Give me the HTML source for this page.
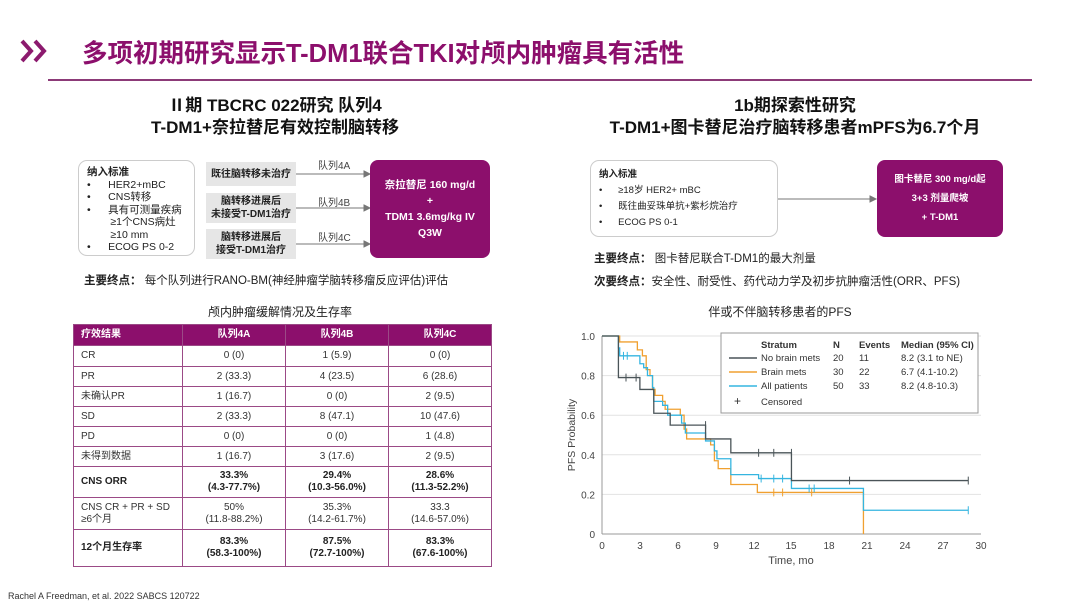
<!DOCTYPE html>
<html><head><meta charset="utf-8">
<style>
*{margin:0;padding:0;box-sizing:border-box}
body{width:1080px;height:608px;background:#fff;position:relative;overflow:hidden;font-family:"Liberation Sans","Noto Sans CJK SC",sans-serif;color:#222}
.a{position:absolute;white-space:nowrap}
.h{font-weight:bold;font-size:17px;text-align:center;line-height:22px;color:#111}
.gb{position:absolute;background:#e6e6e6;font-size:10px;font-weight:bold;text-align:center;display:flex;align-items:center;justify-content:center;line-height:13px;color:#222}
.pb{position:absolute;background:#8c0f6c;border-radius:8px;color:#fff;font-size:10.5px;font-weight:bold;text-align:center;display:flex;flex-direction:column;justify-content:center;line-height:16px}
.wb{position:absolute;border:1px solid #ccc;border-radius:9px;background:#fff;font-size:10.5px;line-height:12.5px}
table{position:absolute;left:73px;top:324px;width:419px;border-collapse:collapse;font-size:10px}
td{border:1px solid #9b4a86;text-align:center;color:#333;line-height:12px}
td:first-child{text-align:left;padding-left:7px}
tr.hd td{background:#8c0f6c;color:#fff;font-weight:bold;height:21px}
tr.b td{font-weight:bold;color:#222}
</style></head><body>
<svg class="a" style="left:18px;top:38px" width="34" height="28"><g fill="none" stroke="#8c1a6e" stroke-width="4"><polyline points="4,3 13,13 4,23"/><polyline points="17,3 26,13 17,23"/></g></svg>
<div class="a" style="left:82px;top:33px;font-size:25.5px;font-weight:bold;color:#8c0f6c">多项初期研究显示T-DM1联合TKI对颅内肿瘤具有活性</div>
<div class="a" style="left:48px;top:79px;width:984px;height:2px;background:#8c3a78"></div>

<div class="a h" style="left:125px;top:95px;width:300px">Ⅱ期 TBCRC 022研究 队列4<br>T-DM1+奈拉替尼有效控制脑转移</div>
<div class="a h" style="left:580px;top:95px;width:430px">1b期探索性研究<br>T-DM1+图卡替尼治疗脑转移患者mPFS为6.7个月</div>

<div class="wb" style="left:78px;top:160px;width:117px;height:96px;padding:5px 8px">
<b>纳入标准</b><br>•&nbsp;&nbsp;&nbsp;&nbsp;&nbsp;&nbsp;HER2+mBC<br>•&nbsp;&nbsp;&nbsp;&nbsp;&nbsp;&nbsp;CNS转移<br>•&nbsp;&nbsp;&nbsp;&nbsp;&nbsp;&nbsp;具有可测量疾病<br>&nbsp;&nbsp;&nbsp;&nbsp;&nbsp;&nbsp;&nbsp;&nbsp;≥1个CNS病灶<br>&nbsp;&nbsp;&nbsp;&nbsp;&nbsp;&nbsp;&nbsp;&nbsp;≥10 mm<br>•&nbsp;&nbsp;&nbsp;&nbsp;&nbsp;&nbsp;ECOG PS 0-2</div>
<div class="gb" style="left:206px;top:162px;width:90px;height:24px">既往脑转移未治疗</div>
<div class="gb" style="left:206px;top:193px;width:90px;height:30px">脑转移进展后<br>未接受T-DM1治疗</div>
<div class="gb" style="left:206px;top:229px;width:90px;height:30px">脑转移进展后<br>接受T-DM1治疗</div>
<svg class="a" style="left:0;top:0" width="1080" height="608">
<g stroke="#777" stroke-width="1" fill="#777">
<line x1="296" y1="174" x2="366" y2="174"/><path d="M364 171 L370 174 L364 177Z"/>
<line x1="296" y1="208" x2="366" y2="208"/><path d="M364 205 L370 208 L364 211Z"/>
<line x1="296" y1="244" x2="366" y2="244"/><path d="M364 241 L370 244 L364 247Z"/>
<line x1="778" y1="199" x2="872" y2="199"/><path d="M870 196 L876 199 L870 202Z"/>
</g></svg>
<div class="a" style="left:318px;top:157px;font-size:10px;color:#444">队列4A</div>
<div class="a" style="left:318px;top:194px;font-size:10px;color:#444">队列4B</div>
<div class="a" style="left:318px;top:229px;font-size:10px;color:#444">队列4C</div>
<div class="pb" style="left:370px;top:160px;width:120px;height:98px">奈拉替尼 160 mg/d<br>+<br>TDM1 3.6mg/kg IV<br>Q3W</div>
<div class="a" style="left:84px;top:272px;font-size:11.5px"><b>主要终点：</b> 每个队列进行RANO-BM(神经肿瘤学脑转移瘤反应评估)评估</div>

<div class="a" style="left:160px;top:303px;width:240px;text-align:center;font-size:12px">颅内肿瘤缓解情况及生存率</div>
<table>
<tr class="hd"><td style="width:109px">疗效结果</td><td style="width:103px">队列4A</td><td style="width:103px">队列4B</td><td>队列4C</td></tr>
<tr style="height:21px"><td>CR</td><td>0 (0)</td><td>1 (5.9)</td><td>0 (0)</td></tr>
<tr style="height:20px"><td>PR</td><td>2 (33.3)</td><td>4 (23.5)</td><td>6 (28.6)</td></tr>
<tr style="height:20px"><td>未确认PR</td><td>1 (16.7)</td><td>0 (0)</td><td>2 (9.5)</td></tr>
<tr style="height:20px"><td>SD</td><td>2 (33.3)</td><td>8 (47.1)</td><td>10 (47.6)</td></tr>
<tr style="height:20px"><td>PD</td><td>0 (0)</td><td>0 (0)</td><td>1 (4.8)</td></tr>
<tr style="height:20px"><td>未得到数据</td><td>1 (16.7)</td><td>3 (17.6)</td><td>2 (9.5)</td></tr>
<tr class="b" style="height:31px"><td>CNS ORR</td><td>33.3%<br>(4.3-77.7%)</td><td>29.4%<br>(10.3-56.0%)</td><td>28.6%<br>(11.3-52.2%)</td></tr>
<tr style="height:32px"><td>CNS CR + PR + SD<br>≥6个月</td><td>50%<br>(11.8-88.2%)</td><td>35.3%<br>(14.2-61.7%)</td><td>33.3<br>(14.6-57.0%)</td></tr>
<tr class="b" style="height:37px"><td>12个月生存率</td><td>83.3%<br>(58.3-100%)</td><td>87.5%<br>(72.7-100%)</td><td>83.3%<br>(67.6-100%)</td></tr>
</table>

<div class="wb" style="left:590px;top:160px;width:188px;height:77px;padding:6px 8px;font-size:9.5px;line-height:16px">
<b>纳入标准</b><br>•&nbsp;&nbsp;&nbsp;&nbsp;&nbsp;&nbsp;≥18岁 HER2+ mBC<br>•&nbsp;&nbsp;&nbsp;&nbsp;&nbsp;&nbsp;既往曲妥珠单抗+紫杉烷治疗<br>•&nbsp;&nbsp;&nbsp;&nbsp;&nbsp;&nbsp;ECOG PS 0-1</div>
<div class="pb" style="left:877px;top:160px;width:126px;height:77px;font-size:9.5px;line-height:19px">图卡替尼 300 mg/d起<br>3+3 剂量爬坡<br>+ T-DM1</div>
<div class="a" style="left:594px;top:250px;font-size:11.5px"><b>主要终点：</b> 图卡替尼联合T-DM1的最大剂量</div>
<div class="a" style="left:594px;top:273px;font-size:11.5px"><b>次要终点：</b>安全性、耐受性、药代动力学及初步抗肿瘤活性(ORR、PFS)</div>
<div class="a" style="left:660px;top:303px;width:240px;text-align:center;font-size:12px">伴或不伴脑转移患者的PFS</div>

<svg class="a" style="left:0;top:0" width="1080" height="608" font-family="Liberation Sans, sans-serif">
<g stroke="#e2e2e2" stroke-width="1">
<line x1="602" x2="981" y1="336" y2="336"/><line x1="602" x2="981" y1="375.6" y2="375.6"/><line x1="602" x2="981" y1="415.2" y2="415.2"/><line x1="602" x2="981" y1="454.8" y2="454.8"/><line x1="602" x2="981" y1="494.4" y2="494.4"/>
</g>
<g stroke="#999" stroke-width="1"><line x1="602" y1="336" x2="602" y2="534"/><line x1="602" y1="534" x2="981" y2="534"/></g>
<g font-size="10" fill="#444" text-anchor="end">
<text x="595" y="340">1.0</text><text x="595" y="379.6">0.8</text><text x="595" y="419.2">0.6</text><text x="595" y="458.8">0.4</text><text x="595" y="498.4">0.2</text><text x="595" y="538">0</text></g>
<g font-size="10" fill="#444" text-anchor="middle">
<text x="602" y="549">0</text><text x="640" y="549">3</text><text x="678" y="549">6</text><text x="716" y="549">9</text><text x="754" y="549">12</text><text x="791" y="549">15</text><text x="829" y="549">18</text><text x="867" y="549">21</text><text x="905" y="549">24</text><text x="943" y="549">27</text><text x="981" y="549">30</text>
<text x="791" y="564" font-size="11">Time, mo</text>
<text transform="translate(575,435) rotate(-90)" font-size="10.5">PFS Probability</text></g>
<g transform="translate(602,534) scale(12.63,-198)" fill="none" stroke-width="1.3">
<path vector-effect="non-scaling-stroke" stroke="#f0a030" d="M0 1H1.4V0.97H2.8V0.93H3.2V0.9H3.5V0.83H3.8V0.8H4V0.73H4.2V0.7H4.8V0.67H5V0.63H6.2V0.6H6.5V0.53H6.7V0.48H8.6V0.45H8.9V0.37H9.2V0.33H10.2V0.25H12.3V0.21H20.7V0"/>
<path vector-effect="non-scaling-stroke" stroke="#35b5e0" d="M0 1H1.3V0.94H1.4V0.9H3V0.86H3.3V0.84H3.6V0.8H4V0.74H4.1V0.67H4.8V0.65H5.2V0.6H6.3V0.56H6.6V0.51H8.2V0.47H8.9V0.42H9.1V0.38H10.2V0.3H12.4V0.28H15V0.23H20.7V0.12H29"/>
<path vector-effect="non-scaling-stroke" stroke="#4a5458" d="M0 1H1.3V0.79H3V0.73H4.1V0.61H5.4V0.55H8.2V0.48H10.2V0.41H15V0.27H29"/>
<path vector-effect="non-scaling-stroke" stroke="#4a5458" stroke-width="1" d="M1.9 0.77V0.81M2.7 0.77V0.81M8.2 0.53V0.57M12.4 0.39V0.43M13.6 0.39V0.43M15 0.39V0.43M19.6 0.25V0.29M29 0.25V0.29"/>
<path vector-effect="non-scaling-stroke" stroke="#35b5e0" stroke-width="1" d="M1.7 0.88V0.92M2 0.88V0.92M12.6 0.26V0.3M13.6 0.26V0.3M14.3 0.26V0.3M16.4 0.21V0.25M16.8 0.21V0.25M29 0.1V0.14"/>
<path vector-effect="non-scaling-stroke" stroke="#f0a030" stroke-width="1" d="M13.6 0.19V0.23M14.3 0.19V0.23M16.6 0.19V0.23"/>
</g>
<rect x="721" y="333" width="257" height="80" fill="#fff" stroke="#999"/>
<g font-size="9.5" fill="#333">
<text x="761" y="348" font-weight="bold">Stratum</text><text x="833" y="348" font-weight="bold">N</text><text x="859" y="348" font-weight="bold">Events</text><text x="901" y="348" font-weight="bold">Median (95% CI)</text>
<text x="761" y="361">No brain mets</text><text x="833" y="361">20</text><text x="859" y="361">11</text><text x="901" y="361">8.2 (3.1 to NE)</text>
<text x="761" y="375">Brain mets</text><text x="833" y="375">30</text><text x="859" y="375">22</text><text x="901" y="375">6.7 (4.1-10.2)</text>
<text x="761" y="389">All patients</text><text x="833" y="389">50</text><text x="859" y="389">33</text><text x="901" y="389">8.2 (4.8-10.3)</text>
<text x="734" y="405" font-size="12">+</text><text x="761" y="405">Censored</text></g>
<g stroke-width="1.5"><line x1="729" x2="757" y1="358" y2="358" stroke="#4a5458"/><line x1="729" x2="757" y1="372" y2="372" stroke="#f0a030"/><line x1="729" x2="757" y1="386" y2="386" stroke="#35b5e0"/></g>
</svg>
<div class="a" style="left:8px;top:591px;font-size:9px;color:#333">Rachel A Freedman, et al. 2022 SABCS 120722</div>
</body></html>
